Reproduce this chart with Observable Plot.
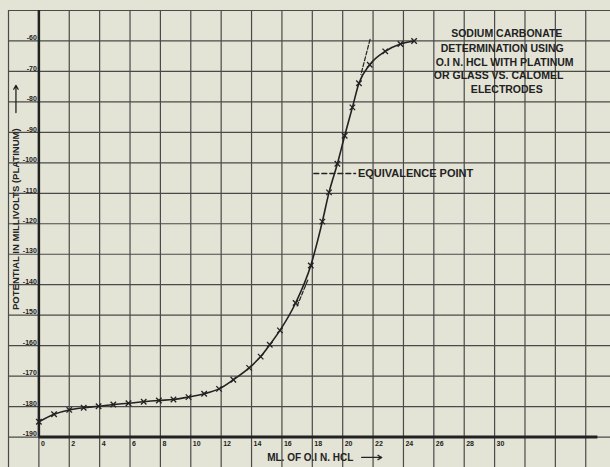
<!DOCTYPE html>
<html>
<head>
<meta charset="utf-8">
<script src="https://cdn.jsdelivr.net/npm/d3@7"></script>
<script src="https://cdn.jsdelivr.net/npm/@observablehq/plot@0.6"></script>
<style>
  html, body { margin: 0; padding: 0; background: #e3e3d6; }
  #chart { width: 610px; height: 467px; overflow: hidden; }
</style>
</head>
<body>
<div id="chart"></div>
<script>
// Titration data: ml of 0.1 N HCl vs potential (mV)
const ml = [0, 1, 2, 2.95, 3.93, 4.9, 5.9, 6.9, 7.9, 8.86, 9.85, 10.88, 11.86, 12.8, 13.84,
            14.6, 15.2, 15.87, 16.9, 17.9, 18.66, 19.1, 19.65, 20.13, 20.64, 21.07, 21.78, 22.8, 23.8, 24.7];
const mv = [-185, -182.5, -181.1, -180.4, -179.9, -179.3, -178.9, -178.4, -178.0, -177.7, -176.9,
            -175.8, -174.2, -171.2, -167.3, -163.6, -159.7, -155.0, -146, -133.7, -119.3, -109.7,
            -100.3, -91.1, -81.8, -73.9, -67.8, -63.4, -61, -60];

// Tick labels
const xTicks = [0, 2, 4, 6, 8, 10, 12, 14, 16, 18, 20, 22, 24, 26, 28, 30];
const yTicks = [-60, -70, -80, -90, -100, -110, -120, -130, -140, -150, -160, -170, -180, -190];
const xGrid = d3.range(-2, 38, 2);
const yGrid = d3.range(-200, -40, 10);

// Annotation texts
const titleLines = ["SODIUM CARBONATE", "DETERMINATION USING", "O.I N. HCL WITH PLATINUM",
                    "OR GLASS VS. CALOMEL", "ELECTRODES"];
const titleX = [30.8, 30.5, 30.66, 30.26, 30.8];
const titleY = [-57.6, -62.5, -67.1, -71.4, -75.9];

const data = ml.map((x, i) => ({x, y: mv[i]}));
const titleData = titleLines.map((t, i) => ({t, x: titleX[i], y: titleY[i]}));

const ink = "#222";
const grid = "#4a4a48";
const font = "'Liberation Sans', Arial, sans-serif";

const chart = Plot.plot({
  width: 610,
  height: 467,
  marginLeft: 8,
  marginRight: 0,
  marginTop: 10,
  marginBottom: 0,
  x: {domain: [-2, 37.63], axis: null},
  y: {domain: [-200, -50], axis: null},
  style: {background: "#e3e3d6", fontFamily: font, color: ink},
  marks: [
    Plot.ruleX(xGrid, {stroke: grid, strokeWidth: 1.2}),
    Plot.ruleY(yGrid, {stroke: grid, strokeWidth: 1.2}),
    // axes
    Plot.ruleY([-190], {x1: 0, x2: 36.8, stroke: ink, strokeWidth: 3}),
    Plot.ruleX([0], {y1: -190, y2: -50, stroke: ink, strokeWidth: 2.5}),
    // tick labels
    Plot.text(yTicks, {x: 0, y: d => d, text: d => String(d), textAnchor: "end", dx: -2, dy: -3,
      fontSize: 7, fontWeight: "bold", fill: ink}),
    Plot.text(xTicks, {x: d => d, y: -190, text: d => String(d), textAnchor: "start", dx: 2, dy: 7,
      fontSize: 7, fontWeight: "bold", fill: ink}),
    // axis titles
    Plot.text(["POTENTIAL IN MILLIVOLTS (PLATINUM)"], {x: -1.51, y: -118.5, text: d => d, rotate: -90,
      fontSize: 9.5, fontWeight: "bold", fill: ink}),
    Plot.arrow([{x1: -1.51, y1: -83.5, x2: -1.51, y2: -74.6}], {x1: "x1", y1: "y1", x2: "x2", y2: "y2",
      stroke: ink, strokeWidth: 1.3, headLength: 5}),
    Plot.text(["ML. OF O.I N. HCL"], {x: 17.86, y: -196.7, text: d => d, fontSize: 10, fontWeight: "bold", fill: ink}),
    Plot.arrow([{x1: 21.25, y1: -196.7, x2: 22.57, y2: -196.7}], {x1: "x1", y1: "y1", x2: "x2", y2: "y2",
      stroke: ink, strokeWidth: 1.3, headLength: 5}),
    // tangent dashes
    Plot.line([{x: 21.8, y: -59.5}, {x: 21.2, y: -71}], {x: "x", y: "y", stroke: ink, strokeWidth: 1.2, strokeDasharray: "4,2"}),
    Plot.line([{x: 17.0, y: -147}, {x: 17.7, y: -138.5}], {x: "x", y: "y", stroke: ink, strokeWidth: 1.2, strokeDasharray: "4,2"}),
    // curve
    Plot.line(data, {x: "x", y: "y", curve: "monotone-x", stroke: ink, strokeWidth: 1.6}),
    Plot.dot(data, {x: "x", y: "y", symbol: "times", r: 2.6, stroke: ink, strokeWidth: 1.3}),
    // equivalence point
    Plot.line([{x: 18.1, y: -103.5}, {x: 20.85, y: -103.5}], {x: "x", y: "y", stroke: ink, strokeWidth: 1.3, strokeDasharray: "5,3"}),
    Plot.text(["EQUIVALENCE POINT"], {x: 21.0, y: -103.5, text: d => d, textAnchor: "start",
      fontSize: 11, fontWeight: "bold", fill: ink}),
    // title block
    Plot.text(titleData, {x: "x", y: "y", text: "t", fontSize: 10.5, fontWeight: "bold", fill: ink})
  ]
});
document.getElementById("chart").appendChild(chart);
</script>
</body>
</html>
